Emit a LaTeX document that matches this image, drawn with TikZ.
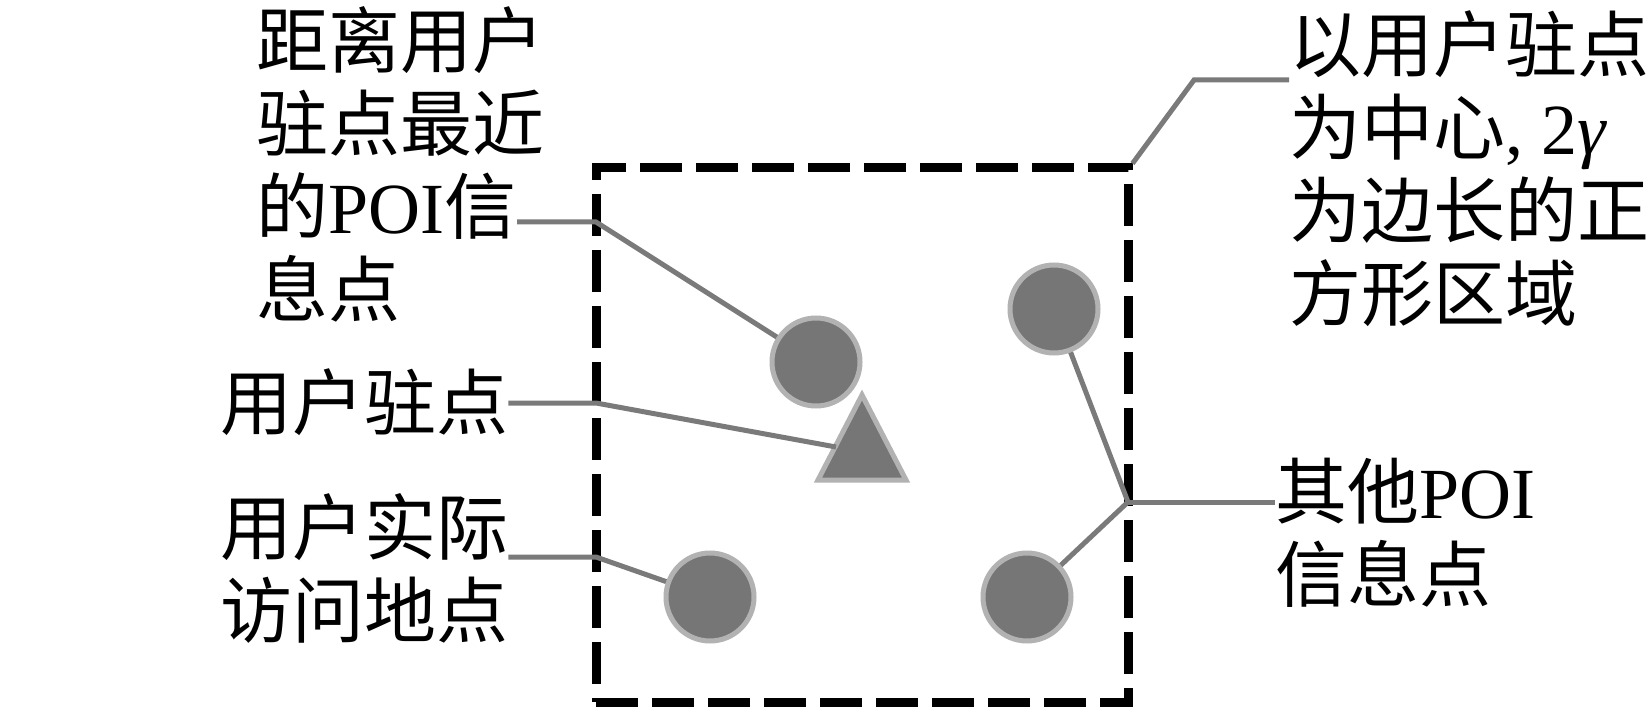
\documentclass[tikz,border=0pt]{standalone}
\usepackage{fontspec}
\setmainfont{Liberation Serif}
\newfontfamily\cjk{Noto Sans CJK SC}
\newcommand\lat[1]{{\rmfamily #1}}
\definecolor{poifill}{HTML}{767676}
\definecolor{poiedge}{HTML}{B2B2B2}
\definecolor{connc}{HTML}{7A7A7A}
\tikzset{
  lbl/.style={anchor=north west, inner sep=0pt, align=left,
    font=\fontsize{72}{83}\selectfont\cjk},
  poi/.style={circle, fill=poifill, draw=poiedge, line width=5pt,
    minimum size=88pt, inner sep=0pt},
  conn/.style={draw=connc, line width=5pt},
  region/.style={draw=black, line width=9pt, dash pattern=on 42pt off 14pt,
    minimum width=532pt, minimum height=534pt, inner sep=0pt}
}
\begin{document}
\begin{tikzpicture}[x=1pt,y=-1pt]
\useasboundingbox[fill=white] (0,0) rectangle (1649,711);
% dashed square region
\node[region] (box) at (862,435) {};
% POI circles
\node[poi] (near) at (816,362) {};
\node[poi] (tr) at (1054,309) {};
\node[poi] (bl) at (710,597) {};
\node[poi] (br) at (1027,597) {};
% user stay point triangle
\filldraw[fill=poifill, draw=poiedge, line width=5pt] (862,395) -- (906,480) -- (818,480) -- cycle;
\coordinate (tri) at (836,447);
% labels
\node[lbl] (L1) at (256,6) {距离用户\\驻点最近\\的\lat{POI}信\\息点};
\node[lbl] (L2) at (220,368) {用户驻点};
\node[lbl] (L3) at (220,493) {用户实际\\访问地点};
\node[lbl] (R1) at (1289,10) {以用户驻点\\为中心\lat{,\ 2\itshape γ}\\为边长的正\\方形区域};
\node[lbl] (R2) at (1275,458) {其他\lat{POI}\\信息点};
% connectors
\coordinate (s1) at (517,222);
\coordinate (k1) at (596,222);
\draw[conn] (s1) -- (k1) -- (near);
\coordinate (k2) at (596,403);
\draw[conn] (L2.east |- k2) -- (k2) -- (tri);
\coordinate (k3) at (596,557);
\draw[conn] (L3.east |- k3) -- (k3) -- (bl);
\coordinate (j) at (1128,502);
\draw[conn] (tr) -- (j) -- (br);
\draw[conn] (j) -- (R2.west |- j);
\coordinate (h) at (1194,80);
\draw[conn] (box.north east) -- (h) -- (R1.west |- h);
\end{tikzpicture}
\end{document}
